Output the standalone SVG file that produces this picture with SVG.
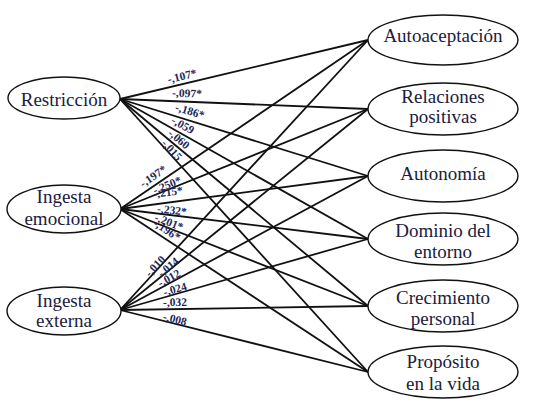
<svg xmlns="http://www.w3.org/2000/svg" width="534" height="403" viewBox="0 0 534 403">
<style>
.node ellipse{fill:#fff;stroke:#111;stroke-width:1.4}
.node text{font-family:'Liberation Serif','Times New Roman',serif;font-size:19px;fill:#1a2040;text-anchor:middle}
#connectors line{stroke:#111;stroke-width:1.8}
.lbl{font-family:'Liberation Serif','Times New Roman',serif;font-size:11.5px;font-weight:bold;fill:#1c2a5c;text-anchor:middle}
</style>
<rect width="534" height="403" fill="#fff"/>
<g id="connectors">
<line x1="120" y1="99" x2="368" y2="40"/>
<line x1="120" y1="99" x2="368" y2="109"/>
<line x1="120" y1="99" x2="368" y2="176"/>
<line x1="120" y1="99" x2="368" y2="239"/>
<line x1="120" y1="99" x2="368" y2="306"/>
<line x1="120" y1="99" x2="368" y2="372"/>
<line x1="120" y1="209" x2="368" y2="40"/>
<line x1="120" y1="209" x2="368" y2="109"/>
<line x1="120" y1="209" x2="368" y2="176"/>
<line x1="120" y1="209" x2="368" y2="239"/>
<line x1="120" y1="209" x2="368" y2="306"/>
<line x1="120" y1="209" x2="368" y2="372"/>
<line x1="120" y1="310" x2="368" y2="40"/>
<line x1="120" y1="310" x2="368" y2="109"/>
<line x1="120" y1="310" x2="368" y2="176"/>
<line x1="120" y1="310" x2="368" y2="239"/>
<line x1="120" y1="310" x2="368" y2="306"/>
<line x1="120" y1="310" x2="368" y2="372"/>
<g id="labels">
<text class="lbl" transform="translate(182,76) rotate(-13.4)" y="4">-,107*</text>
<text class="lbl" transform="translate(187,93) rotate(2.3)" y="4">-,097*</text>
<text class="lbl" transform="translate(190,111) rotate(17.2)" y="4">-,186*</text>
<text class="lbl" transform="translate(183,125) rotate(29.4)" y="4">-,059</text>
<text class="lbl" transform="translate(179,139) rotate(39.8)" y="4">-,060</text>
<text class="lbl" transform="translate(172,150) rotate(47.8)" y="4">-,015</text>
<text class="lbl" transform="translate(153,176) rotate(-34.3)" y="4">-,197*</text>
<text class="lbl" transform="translate(167,185) rotate(-22)" y="4">-,250*</text>
<text class="lbl" transform="translate(168,192) rotate(-7.6)" y="4">-,215*</text>
<text class="lbl" transform="translate(172,210) rotate(6.9)" y="4">-,232*</text>
<text class="lbl" transform="translate(169,222) rotate(21.4)" y="4">-,201*</text>
<text class="lbl" transform="translate(167,230) rotate(33.3)" y="4">-,196*</text>
<text class="lbl" transform="translate(155,266) rotate(-47.4)" y="4">-,010</text>
<text class="lbl" transform="translate(168,267) rotate(-39)" y="4">-,014</text>
<text class="lbl" transform="translate(169,278) rotate(-28.4)" y="4">-,012</text>
<text class="lbl" transform="translate(175,289) rotate(-16)" y="4">-,024</text>
<text class="lbl" transform="translate(175,302) rotate(-0.9)" y="4">-,032</text>
<text class="lbl" transform="translate(175,319) rotate(14)" y="4">-,008</text>
</g>
</g>
<g id="restriccion" class="node"><ellipse cx="64" cy="98" rx="56" ry="21"/><text x="64" y="106">Restricción</text></g>
<g id="ingesta-emocional" class="node"><ellipse cx="64" cy="209" rx="57" ry="24"/><text x="64" y="203">Ingesta</text><text x="64" y="225">emocional</text></g>
<g id="ingesta-externa" class="node"><ellipse cx="64" cy="311" rx="57" ry="24"/><text x="64" y="307">Ingesta</text><text x="64" y="327">externa</text></g>
<g id="autoaceptacion" class="node"><ellipse cx="443" cy="40" rx="75" ry="25"/><text x="443" y="42">Autoaceptación</text></g>
<g id="relaciones-positivas" class="node"><ellipse cx="443" cy="109" rx="75" ry="26"/><text x="443" y="102.5">Relaciones</text><text x="443" y="122.5">positivas</text></g>
<g id="autonomia" class="node"><ellipse cx="443" cy="176" rx="75" ry="26"/><text x="443" y="180">Autonomía</text></g>
<g id="dominio-entorno" class="node"><ellipse cx="443" cy="239" rx="75" ry="26"/><text x="443" y="236.5">Dominio del</text><text x="443" y="258">entorno</text></g>
<g id="crecimiento-personal" class="node"><ellipse cx="443" cy="306" rx="75" ry="26"/><text x="443" y="304">Crecimiento</text><text x="443" y="325">personal</text></g>
<g id="proposito-vida" class="node"><ellipse cx="443" cy="372" rx="75" ry="26"/><text x="443" y="368">Propósito</text><text x="443" y="390">en la vida</text></g>
</svg>
